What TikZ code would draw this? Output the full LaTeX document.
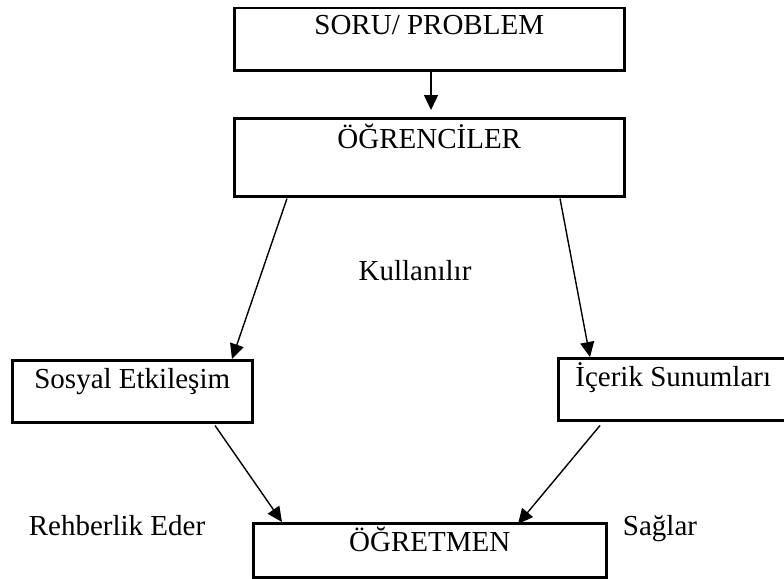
\documentclass[tikz,border=0pt]{standalone}
\usepackage{fontspec}
\setmainfont{Liberation Serif}
\usepackage{tikz}
\usetikzlibrary{positioning,calc,arrows.meta}
\tikzset{>={Triangle[length=15pt,width=14pt]}}
\tikzset{kutu/.style={draw,line width=2.5pt,inner sep=0pt,anchor=north west,font=\fontsize{29}{33}\selectfont},
  etiket/.style={anchor=base,font=\fontsize{29}{33}\selectfont},
  ok/.style={->,line width=1.4pt}}

\begin{document}
\begin{tikzpicture}[x=1pt,y=-1pt]
\useasboundingbox (0,0) rectangle (784,578);
% kutular
\node[kutu,minimum width=390pt,text height=26pt,text depth=36pt] (soru) at (233,7) {SORU/ PROBLEM};
\node[kutu,minimum width=390pt,text height=30pt,text depth=48pt] (ogr) at (233,117) {ÖĞRENCİLER};
\node[kutu,minimum width=240pt,text height=28pt,text depth=34pt] (sosyal) at (11,359) {Sosyal Etkileşim};
\node[kutu,minimum width=230pt,text height=28pt,text depth=34pt] (icerik) at (557,357) {İçerik Sunumları};
\node[kutu,minimum width=353pt,text height=28pt,text depth=26pt] (ogretmen) at (252,522) {ÖĞRETMEN};
% etiketler
\node[etiket] (kul) at (415,280) {Kullanılır};
\node[etiket] (reh) at (117,535) {Rehberlik Eder};
\node[etiket] (sag) at (660,535) {Sağlar};
% oklar
\draw[ok] ([xshift=198pt]soru.south west) -- ([xshift=198pt,yshift=7pt]ogr.north west);
\draw[ok] ([xshift=54pt,yshift=-1pt]ogr.south west) -- ([xshift=221pt]sosyal.north west);
\draw[ok] ([xshift=327pt,yshift=-1pt]ogr.south west) -- ([xshift=33pt]icerik.north west);
\draw[ok] ([xshift=204pt,yshift=-2pt]sosyal.south west) -- ([xshift=30pt]ogretmen.north west);
\draw[ok] ([xshift=43pt,yshift=-4pt]icerik.south west) -- ([xshift=266pt,yshift=-2pt]ogretmen.north west);
\end{tikzpicture}
\end{document}
